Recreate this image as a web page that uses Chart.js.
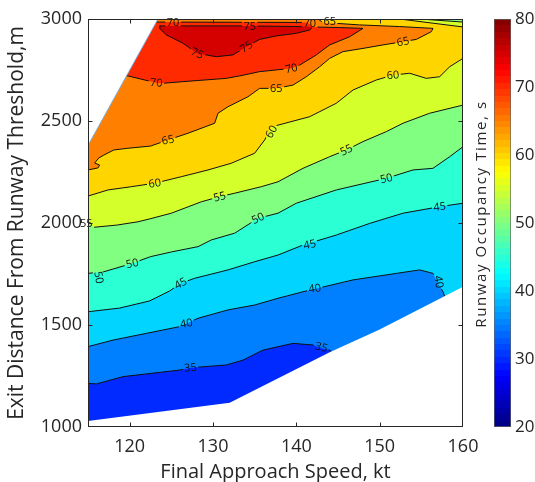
<!DOCTYPE html>
<html>
<head>
<meta charset="utf-8">
<script src="https://cdn.jsdelivr.net/npm/chart.js@4.4.0/dist/chart.umd.min.js"></script>
<style>
  html, body { margin: 0; padding: 0; background: #fff; }
  #wrap { position: relative; width: 535px; height: 482px; }
  canvas { position: absolute; left: 0; top: 0; }
</style>
</head>
<body>
<div id="wrap">
  <canvas id="contour" width="535" height="482"></canvas>
  <canvas id="colorbar" width="535" height="482"></canvas>
</div>
<script>
// axis ticks
var speedTicks = [120, 130, 140, 150, 160];
var distTicks = [1000, 1500, 2000, 2500, 3000];
var timeTicks = [20, 30, 40, 50, 60, 70, 80];

// contour lines: [speed kt, exit distance m]
var c35 = [[115.0,1214],[116.0,1211],[119.2,1247],[126.0,1279],[127.4,1291],[131.6,1304],[133.6,1328],
  [136.0,1377],[139.6,1410],[142.0,1402],[143.0,1386],[144.0,1377]];
var c40 = [[115.0,1394],[118.0,1426],[122.0,1459],[126.0,1492],[128.2,1533],[131.8,1574],[135.0,1598],
  [137.8,1631],[140.8,1663],[146.8,1721],[152.0,1753],[154.8,1770],[156.4,1753],[157.0,1704],[157.6,1663]];
var c45 = [[115.0,1565],[118.8,1583],[122.4,1618],[124.8,1667],[126.1,1704],[127.8,1729],[131.8,1770],
  [135.0,1810],[137.8,1843],[140.8,1892],[144.8,1941],[148.8,1998],[152.8,2048],[157.2,2080],[160.0,2097]];
var c50 = [[115.0,1753],[116.9,1761],[120.3,1802],[122.5,1835],[125.0,1858],[128.2,1884],[129.8,1917],
  [132.6,1950],[135.4,2023],[137.8,2048],[140.0,2097],[144.8,2162],[150.8,2219],[154.0,2260],[156.4,2268],
  [158.4,2325],[160.0,2374]];
var c55 = [[115.0,2000],[115.7,1979],[118.5,1990],[121.0,2006],[122.4,2020],[125.0,2048],[128.6,2104],
  [130.8,2129],[132.6,2146],[135.8,2178],[137.8,2202],[140.8,2268],[144.0,2325],[146.0,2358],[148.0,2399],
  [150.8,2448],[152.8,2489],[156.0,2538],[160.0,2578]];
var c60 = [[115.0,2132],[117.4,2162],[120.2,2178],[123.0,2195],[126.2,2227],[129.4,2260],[132.2,2293],
  [135.0,2342],[136.2,2407],[137.0,2471],[139.2,2495],[141.6,2521],[144.8,2587],[146.8,2652],[149.6,2701],
  [151.6,2725],[153.6,2734],[155.6,2709],[157.2,2717],[158.4,2766],[160.0,2807]];
var c65 = [[115.0,2260],[116.2,2270],[116.4,2284],[115.8,2294],[116.3,2319],[116.9,2333],[118.1,2358],
  [119.7,2366],[122.5,2377],[124.6,2407],[127.0,2440],[130.2,2489],[130.6,2538],[131.8,2570],[134.2,2619],
  [135.6,2660],[137.6,2660],[139.6,2676],[141.2,2717],[142.8,2766],[144.0,2807],[145.6,2840],[148.0,2856],
  [150.4,2873],[152.8,2889],[154.4,2900],[156.2,2938],[156.4,2954],[152.4,2963],[147.6,2971],[143.2,2983],
  [142.6,3000]];
var c70 = [[119.0,2725],[119.8,2721],[121.8,2701],[123.2,2688],[124.0,2685],[126.4,2693],[131.6,2709],
  [133.2,2721],[135.6,2742],[139.4,2758],[140.4,2774],[142.4,2824],[144.0,2873],[146.4,2913],[148.0,2954],
  [145.2,2958],[142.0,2961],[141.6,2975],[141.2,2983],[123.6,2985]];
var c75 = [[123.6,2954],[124.4,2922],[126.4,2881],[128.1,2832],[130.4,2815],[132.4,2824],[134.0,2864],
  [135.6,2900],[137.6,2917],[140.0,2930],[141.6,2946],[142.0,2962],[134.4,2966],[123.6,2966]];

// no-data regions
var maskTopLeft = [[115,2380],[123.4,3000],[115,3000]];
var maskBottomRight = [[115,1030],[132,1119],[144,1367],[150,1478],[160,1688],[160,1000],[115,1000]];

// contour labels: [level, kt, m, angle]
var contourLabels = [
  [35,127.3,1291,-5],[35,143.0,1392,15],
  [40,126.8,1508,-10],[40,142.2,1680,-8],[40,157.1,1712,80],
  [45,126.1,1704,-28],[45,141.6,1895,-12],[45,157.2,2080,-6],
  [50,116.3,1733,80],[50,120.3,1802,-12],[50,135.4,2023,-25],[50,150.8,2219,-12],
  [55,114.8,2000,0],[55,130.8,2129,-15],[55,146.0,2358,-25],
  [60,123.0,2195,-8],[60,137.0,2448,-60],[60,151.6,2725,-5],
  [65,124.6,2407,-12],[65,137.6,2660,0],[65,152.8,2889,-12],[65,144.0,2990,0],
  [70,123.2,2688,5],[70,139.4,2758,-12],[70,125.2,2985,0],[70,141.6,2980,0],
  [75,128.1,2832,25],[75,134.0,2864,-35],[75,134.4,2966,0]
];

var FONT = '"Open Sans", "DejaVu Sans", sans-serif';
var INK = '#262626';

function jet(v) {
  var t = (v - 20) / 60;
  var ch = function (k) { return Math.round(255 * Math.max(0, Math.min(1, 1.5 - Math.abs(4 * t - k)))); };
  return 'rgb(' + ch(3) + ',' + ch(2) + ',' + ch(1) + ')';
}

function toPts(line) {
  return line.concat([line[0]]).map(function (p) { return { x: p[0], y: p[1] }; });
}

function area(level, line, order, stroke) {
  return {
    data: toPts(line),
    showLine: true, fill: 'shape', pointRadius: 0, tension: 0,
    backgroundColor: jet(level),
    borderColor: '#111', borderWidth: stroke ? 1 : 0,
    order: order, contour: stroke
  };
}

var datasets = [
  area(30, [[115,1000],[160,1000],[160,3000],[115,3000]], 100, false),
  area(35, c35.concat([[146,1300],[160,1300],[160,3000],[115,3000]]), 90, true),
  area(40, c40.concat([[158.5,1560],[160,1560],[160,3000],[115,3000]]), 80, true),
  area(45, c45.concat([[160,3000],[115,3000]]), 70, true),
  area(50, c50.concat([[160,3000],[115,3000]]), 60, true),
  area(55, c55.concat([[160,2985],[154.8,3000],[115,3000]]), 50, true),
  area(60, c60.concat([[160,2961],[152.4,3000],[115,3000]]), 40, true),
  area(65, c65.concat([[115,3000]]), 30, true),
  area(70, c70.concat([[115,2985],[115,2700]]), 20, true),
  area(75, c75, 10, true),
  { data: toPts(maskTopLeft), showLine: true, fill: 'shape', pointRadius: 0,
    backgroundColor: '#fff', borderColor: 'rgba(110,170,225,0.9)', borderWidth: 1, order: 2 },
  { data: toPts(maskBottomRight), showLine: true, fill: 'shape', pointRadius: 0,
    backgroundColor: '#fff', borderWidth: 0, order: 1 }
];

function boxPath(ctx, b) {
  var c = Math.cos(b.a), s = Math.sin(b.a), hw = b.w / 2, hh = b.h / 2;
  var pts = [[-hw,-hh],[hw,-hh],[hw,hh],[-hw,hh]];
  pts.forEach(function (p, i) {
    var X = b.px + p[0] * c - p[1] * s, Y = b.py + p[0] * s + p[1] * c;
    if (i === 0) ctx.moveTo(X, Y); else ctx.lineTo(X, Y);
  });
  ctx.closePath();
}

var contourDecor = {
  id: 'contourDecor',
  beforeDatasetsDraw: function (chart) {
    var ctx = chart.ctx, x = chart.scales.x, y = chart.scales.y;
    ctx.save();
    ctx.font = '11px ' + FONT;
    chart.$boxes = contourLabels.map(function (l) {
      var text = String(l[0]);
      return { text: text, px: x.getPixelForValue(l[1]), py: y.getPixelForValue(l[2]),
        a: l[3] * Math.PI / 180, w: ctx.measureText(text).width + 3, h: 10 };
    });
    ctx.restore();
  },
  beforeDatasetDraw: function (chart, args) {
    if (!chart.data.datasets[args.index].contour) return;
    var ctx = chart.ctx;
    ctx.save();
    ctx.beginPath();
    ctx.rect(0, 0, chart.width, chart.height);
    chart.$boxes.forEach(function (b) { boxPath(ctx, b); });
    ctx.clip('evenodd');
  },
  afterDatasetDraw: function (chart, args) {
    if (chart.data.datasets[args.index].contour) chart.ctx.restore();
  },
  afterDatasetsDraw: function (chart) {
    var ctx = chart.ctx, a = chart.chartArea, x = chart.scales.x, y = chart.scales.y;
    ctx.save();
    ctx.fillStyle = '#111';
    ctx.font = '11px ' + FONT;
    ctx.textAlign = 'center';
    ctx.textBaseline = 'middle';
    chart.$boxes.forEach(function (b) {
      ctx.save();
      ctx.translate(b.px, b.py);
      ctx.rotate(b.a);
      ctx.fillText(b.text, 0, 0.5);
      ctx.restore();
    });
    var L = Math.round(a.left) + 0.5, R = Math.round(a.right) - 0.5;
    var T = Math.round(a.top) + 0.5, B = Math.round(a.bottom) - 0.5;
    ctx.strokeStyle = INK;
    ctx.lineWidth = 1;
    ctx.strokeRect(L, T, R - L, B - T);
    ctx.beginPath();
    speedTicks.forEach(function (v) {
      var p = Math.round(x.getPixelForValue(v)) + 0.5;
      if (p <= L + 1 || p >= R - 1) return;
      ctx.moveTo(p, B); ctx.lineTo(p, B - 4);
      ctx.moveTo(p, T); ctx.lineTo(p, T + 4);
    });
    distTicks.forEach(function (v) {
      var p = Math.round(y.getPixelForValue(v)) + 0.5;
      if (p <= T + 1 || p >= B - 1) return;
      ctx.moveTo(L, p); ctx.lineTo(L + 4, p);
      ctx.moveTo(R, p); ctx.lineTo(R - 4, p);
    });
    ctx.stroke();
    ctx.restore();
  }
};

function plain(v) { return String(v); }

new Chart(document.getElementById('contour'), {
  type: 'scatter',
  data: { datasets: datasets },
  options: {
    responsive: false, animation: false, events: [],
    layout: { padding: { top: 19, right: 72, left: 0, bottom: 0 } },
    plugins: { legend: { display: false }, tooltip: { enabled: false } },
    scales: {
      x: {
        type: 'linear', min: 115, max: 160,
        afterBuildTicks: function (s) { s.ticks = speedTicks.map(function (v) { return { value: v }; }); },
        afterFit: function (s) { s.height = 55; },
        grid: { display: false, drawTicks: false },
        border: { display: false },
        ticks: { autoSkip: false, maxRotation: 0, padding: 9, color: INK, callback: plain,
          font: { family: FONT, size: 18 } },
        title: { display: true, text: 'Final Approach Speed, kt', color: INK,
          font: { family: FONT, size: 20, lineHeight: 1 }, padding: { top: 0, bottom: 0 } }
      },
      y: {
        type: 'linear', min: 1000, max: 3000,
        afterBuildTicks: function (s) { s.ticks = distTicks.map(function (v) { return { value: v }; }); },
        afterFit: function (s) { s.width = 88; },
        grid: { display: false, drawTicks: false },
        border: { display: false },
        ticks: { autoSkip: false, padding: 6, color: INK, callback: plain,
          font: { family: FONT, size: 18 } },
        title: { display: true, text: 'Exit Distance From Runway Threshold,m', color: INK,
          font: { family: FONT, size: 21, lineHeight: 1 }, padding: { top: 7, bottom: 0 } }
      }
    }
  },
  plugins: [contourDecor]
});

var colorbarTitle = {
  id: 'colorbarTitle',
  afterDraw: function (chart) {
    var ctx = chart.ctx, a = chart.chartArea;
    ctx.save();
    ctx.translate(482, (a.top + a.bottom) / 2 - 9);
    ctx.rotate(-Math.PI / 2);
    ctx.font = '15px ' + FONT;
    if ('letterSpacing' in ctx) ctx.letterSpacing = '1.6px';
    ctx.fillStyle = INK;
    ctx.textAlign = 'center';
    ctx.textBaseline = 'middle';
    ctx.fillText('Runway Occupancy Time, s', 0, 0);
    ctx.restore();
  }
};

new Chart(document.getElementById('colorbar'), {
  type: 'bar',
  data: {
    labels: ['ROT'],
    datasets: [{
      data: [[timeTicks[0], timeTicks[timeTicks.length - 1]]],
      barPercentage: 1, categoryPercentage: 1,
      borderSkipped: false, borderWidth: 1, borderColor: 'rgba(60,60,60,0.8)',
      backgroundColor: function (c) {
        var a = c.chart.chartArea;
        if (!a) return jet(50);
        var g = c.chart.ctx.createLinearGradient(0, a.bottom, 0, a.top);
        for (var i = 0; i < 64; i++) {
          var col = jet(20 + (i + 0.5) * 60 / 64);
          g.addColorStop(i / 64, col);
          g.addColorStop((i + 1) / 64, col);
        }
        return g;
      }
    }]
  },
  options: {
    responsive: false, animation: false, events: [],
    layout: { padding: { top: 19, bottom: 55, left: 494, right: 0 } },
    plugins: { legend: { display: false }, tooltip: { enabled: false } },
    scales: {
      x: { display: false },
      y: {
        position: 'right', min: 20, max: 80,
        afterBuildTicks: function (s) { s.ticks = timeTicks.map(function (v) { return { value: v }; }); },
        afterFit: function (s) { s.width = 24; },
        grid: { display: false, drawTicks: false },
        border: { display: false },
        ticks: { padding: 4, color: INK, callback: plain, font: { family: FONT, size: 17 } }
      }
    }
  },
  plugins: [colorbarTitle]
});
</script>
</body>
</html>
